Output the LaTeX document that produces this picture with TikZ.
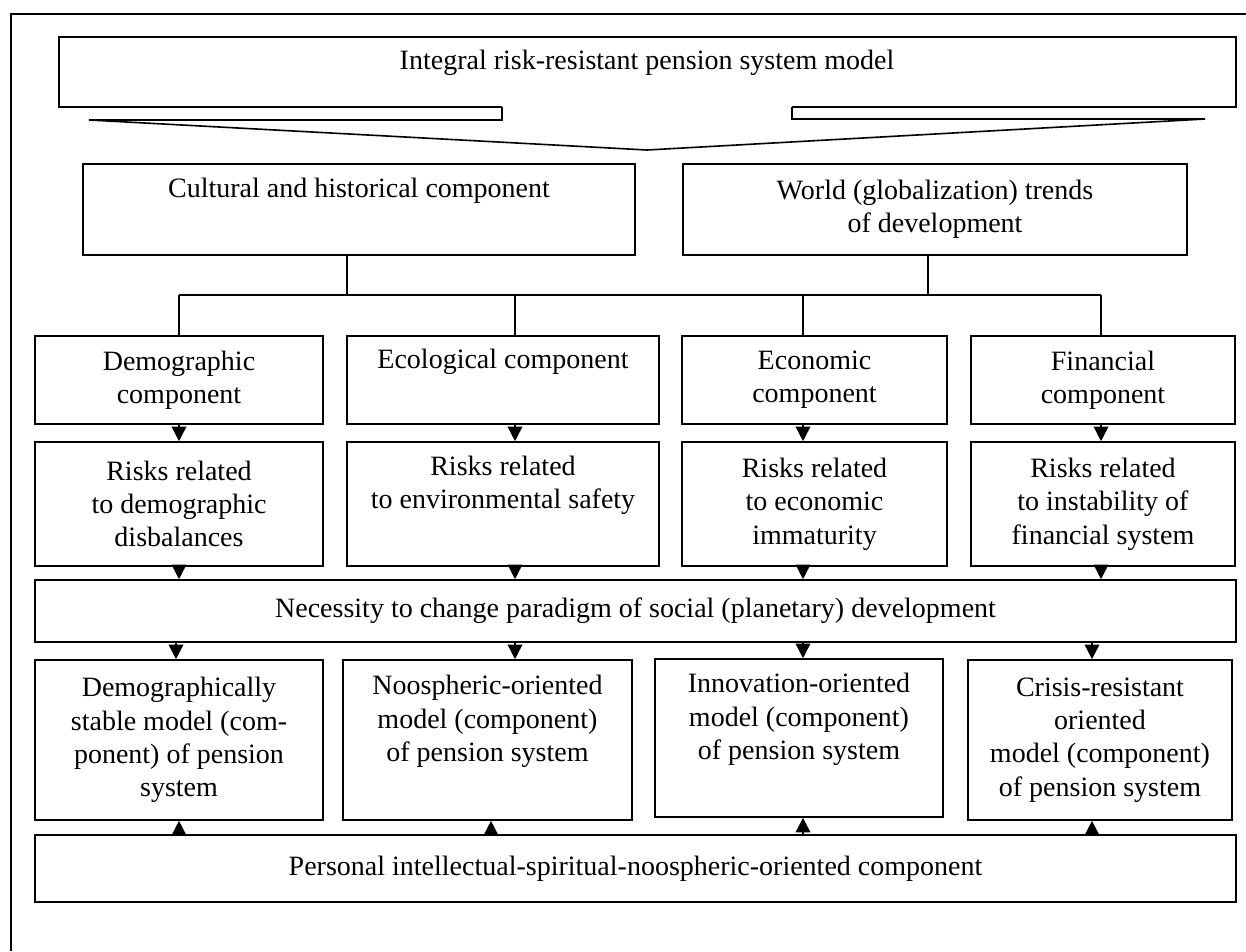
\documentclass[tikz,border=0pt]{standalone}
\usepackage{fontspec}
\setmainfont{Liberation Serif}
\usetikzlibrary{arrows.meta}
\tikzset{
  box/.style={draw, align=center, inner sep=0pt, font=\fontsize{21}{25}\selectfont},
  arr/.style={-{Triangle[width=11pt,length=11pt]}},
}
\begin{document}
\begin{tikzpicture}[x=0.75pt,y=-0.75pt,line width=1.2pt]
            \useasboundingbox (0,0) rectangle (1246,951);
            \draw (11,951) -- (11,14) -- (1246,14);
            % title with its pointer
            \node[font=\fontsize{21}{25}\selectfont] (top) at (647,63) {Integral risk-resistant pension system model};
            \draw (502,107) -- (59,107) -- (59,37) -- (1236,37) -- (1236,107) -- (792,107);
            \draw (502,107) -- (502,120) -- (89,120) -- (647,150) -- (1205,119) -- (792,119) -- (792,107);
            \node[box, minimum width=414pt, minimum height=68.25pt] (cult) at (359,209.5) {Cultural and historical component\\\strut};
            \node[box, minimum width=378pt, minimum height=68.25pt] (world) at (935,209.5) {World (globalization) trends\\of development};
            % components
            \node[box, minimum width=216pt, minimum height=66pt] (dem) at (179,380) {Demographic\\component};
            \node[box, minimum width=234pt, minimum height=66pt] (eco) at (503,380) {Ecological component\\\strut};
            \node[box, minimum width=198.75pt, minimum height=66pt] (econ) at (814.5,380) {Economic\\component};
            \node[box, minimum width=198pt, minimum height=66pt] (fin) at (1103,380) {Financial\\component};
            % risks
            \node[box, minimum width=216pt, minimum height=93pt] (rdem) at (179,504) {Risks related\\to demographic\\disbalances};
            \node[box, minimum width=234pt, minimum height=93pt] (reco) at (503,504) {Risks related\\to environmental safety\\\strut};
            \node[box, minimum width=198.75pt, minimum height=93pt] (recon) at (814.5,504) {Risks related\\to economic\\immaturity};
            \node[box, minimum width=198pt, minimum height=93pt] (rfin) at (1103,504) {Risks related\\to instability of\\financial system};
            \node[box, minimum width=900.75pt, minimum height=46.5pt] (nec) at (635.5,611) {Necessity to change paradigm of social (planetary) development};
            % models
            \node[box, minimum width=216pt, minimum height=120pt] (mdem) at (179,740) {Demographically\\stable model (com-\\ponent) of pension\\system};
            \node[box, minimum width=216.75pt, minimum height=120pt] (mnoo) at (487.5,740) {Noospheric-oriented\\model (component)\\of pension system\\\strut};
            \node[box, minimum width=216pt, minimum height=118.5pt] (minn) at (799,738) {Innovation-oriented\\model (component)\\of pension system\\\strut};
            \node[box, minimum width=198pt, minimum height=120pt] (mcri) at (1100,740) {Crisis-resistant\\oriented\\model (component)\\of pension system};
            \node[box, minimum width=900.75pt, minimum height=50.25pt] (pers) at (635.5,868.5) {Personal intellectual-spiritual-noospheric-oriented component};
            % columns for the links
            \coordinate (bus) at (0,295);
            \coordinate (k1) at (347,0);
            \coordinate (k2) at (928,0);
            \coordinate (a1) at (179,0);
            \coordinate (a2) at (515,0);
            \coordinate (a3) at (803,0);
            \coordinate (a4) at (1101,0);
            \coordinate (b1) at (176,0);
            \coordinate (b4) at (1092,0);
            \coordinate (c2) at (491,0);
            \draw (cult.south -| k1) -- (bus -| k1);
            \draw (world.south -| k2) -- (bus -| k2);
            \draw (bus -| a1) -- (bus -| a4);
            \foreach \c/\n in {a1/dem, a2/eco, a3/econ, a4/fin}
                \draw (bus -| \c) -- (\n.north -| \c);
            \foreach \c/\u/\l in {a1/dem/rdem, a2/eco/reco, a3/econ/recon, a4/fin/rfin}
                \draw[arr] (\u.south -| \c) -- (\l.north -| \c);
            \foreach \c/\u in {a1/rdem, a2/reco, a3/recon, a4/rfin}
                \draw[arr] (\u.south -| \c) -- (nec.north -| \c);
            \foreach \c/\l in {b1/mdem, a2/mnoo, a3/minn, b4/mcri}
                \draw[arr] (nec.south -| \c) -- (\l.north -| \c);
            \foreach \c/\l in {a1/mdem, c2/mnoo, a3/minn, b4/mcri}
                \draw[arr] (pers.north -| \c) -- (\l.south -| \c);
        \end{tikzpicture}
\end{document}
